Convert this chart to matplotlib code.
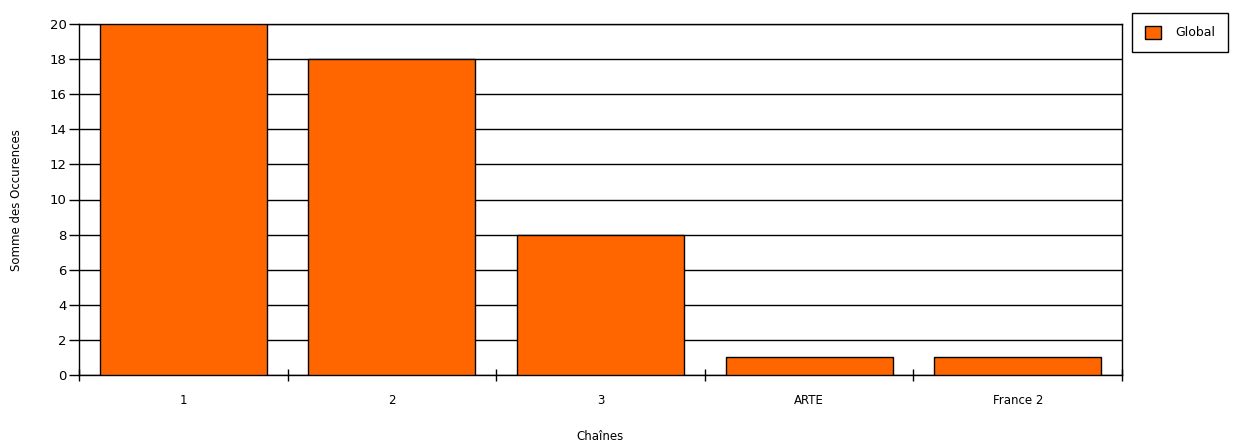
import matplotlib
matplotlib.use("Agg")
import matplotlib.pyplot as plt
import numpy as np

# chart data
chaines = ["1", "2", "3", "ARTE", "France 2"]
occurences = [20, 18, 8, 1, 1]
serie = "Global"

fig = plt.figure(figsize=(12.37, 4.43), dpi=100)
ax = fig.add_axes([79 / 1237, 1 - 375 / 443, (1122 - 79) / 1237, (375 - 24) / 443])

x = np.arange(len(chaines))
ax.bar(x, occurences, width=0.8, color="#FF6600", edgecolor="black",
       linewidth=1, label=serie, zorder=3)

ax.set_xlim(-0.5, len(chaines) - 0.5)
ax.set_ylim(0, 20)
ax.set_yticks(np.arange(0, 21, 2))
ax.yaxis.grid(True, color="black", linewidth=1, zorder=0)
ax.set_axisbelow(True)

# boundary ticks without labels, labels at bar centers
ax.set_xticks(np.arange(-0.5, len(chaines)), [""] * (len(chaines) + 1))
ax.set_xticks(x, chaines, minor=True)
ax.tick_params(axis="x", which="major", direction="inout", length=9, width=1)
ax.tick_params(axis="x", which="minor", length=0, pad=14, labelsize=8.5)
ax.tick_params(axis="y", direction="out", length=7, width=1, labelsize=9.5, pad=2)

for s in ax.spines.values():
    s.set_linewidth(1)
    s.set_color("black")

fig.text(600 / 1237, 1 - 437 / 443, "Chaînes", fontsize=8.5, ha="center", va="center")
fig.text(17 / 1237, 1 - 200 / 443, "Somme des Occurences", fontsize=8.5,
         rotation=90, ha="center", va="center")

fig.legend(loc="upper left", bbox_to_anchor=(1132 / 1237, 1 - 13 / 443),
           frameon=True, fancybox=False, edgecolor="black", fontsize=9,
           handlelength=1.3, handleheight=1.3, borderpad=1.0, framealpha=1,
           handletextpad=1.2, borderaxespad=0)

fig.savefig("out.png", dpi=100)
